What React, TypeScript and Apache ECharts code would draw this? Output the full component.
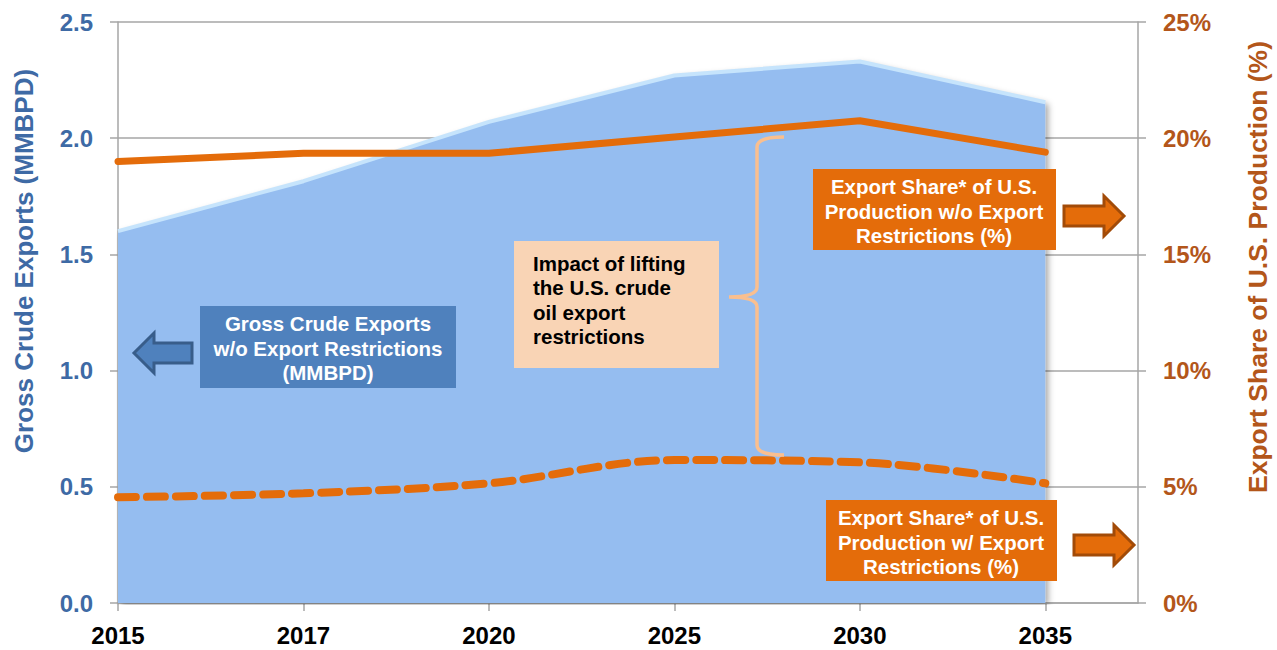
import React, { useEffect, useRef } from "react";
import * as echarts from "echarts";

const years = ["2015", "2017", "2020", "2025", "2030", "2035"];
const grossExports = [1.6, 1.815, 2.07, 2.27, 2.33, 2.155];
const shareNoRestrictions = [19.0, 19.35, 19.35, 20.05, 20.75, 19.4];
const shareWithRestrictions = [4.55, 4.72, 5.15, 6.15, 6.05, 5.15];
const leftTicks = { min: 0, max: 2.5, interval: 0.5 };
const rightTicks = { min: 0, max: 25, interval: 5 };

const FONT = "Liberation Sans, Arial, sans-serif";

const pair = (arr: number[]) => arr.map((v, i) => [i, v]);
const yearIdx = years.map((_, i) => i);

const bracePath =
  "M784,137 Q757,137 757,147 L757,287 Q757,297 729,297 Q757,297 757,307 L757,445 Q757,455 784,455";
echarts.graphic.registerShape("brace", echarts.graphic.extendPath(bracePath, {}) as any);

function rightArrow(x0: number, x1: number, cy: number, fill: string, stroke: string) {
  const headW = 20;
  return {
    type: "polygon",
    z: 100,
    shape: {
      points: [
        [x0, cy - 10],
        [x1 - headW, cy - 10],
        [x1 - headW, cy - 20],
        [x1, cy],
        [x1 - headW, cy + 20],
        [x1 - headW, cy + 10],
        [x0, cy + 10],
      ],
    },
    style: { fill, stroke, lineWidth: 3 },
  };
}

function leftArrow(x0: number, x1: number, cy: number, fill: string, stroke: string) {
  const headW = 20;
  return {
    type: "polygon",
    z: 100,
    shape: {
      points: [
        [x1, cy - 10],
        [x0 + headW, cy - 10],
        [x0 + headW, cy - 20],
        [x0, cy],
        [x0 + headW, cy + 20],
        [x0 + headW, cy + 10],
        [x1, cy + 10],
      ],
    },
    style: { fill, stroke, lineWidth: 3 },
  };
}

function box(x: number, y: number, w: number, h: number, fill: string) {
  return { type: "rect", z: 100, shape: { x, y, width: w, height: h }, style: { fill } };
}

function txt(text: string, x: number, y: number, fill: string, align = "center", size = 20.5) {
  return {
    type: "text",
    z: 101,
    style: {
      text,
      x,
      y,
      fill,
      align,
      verticalAlign: "middle",
      font: `bold ${size}px ${FONT}`,
      lineHeight: 24.5,
    },
  };
}

export default function App() {
  const ref = useRef<HTMLDivElement>(null);
  useEffect(() => {
    if (!ref.current) return;
    const chart = echarts.init(ref.current, null, { renderer: "svg" });
    const orange = "#e46c0a";
    const grid = "#a6a6a6";
    chart.setOption({
      animation: false,
      backgroundColor: "#ffffff",
      grid: { left: 118, right: 139, top: 22, bottom: 47, containLabel: false },
      xAxis: {
        type: "value",
        min: 0,
        max: 5.5,
        interval: 1,
        axisLine: { show: true, lineStyle: { color: grid, width: 1.5 } },
        axisTick: { show: true, length: 8, customValues: yearIdx, lineStyle: { color: grid, width: 1.5 } },
        splitLine: { show: false },
        axisLabel: {
          margin: 20,
          color: "#000000",
          fontFamily: FONT,
          fontWeight: "bold",
          fontSize: 24,
          customValues: yearIdx,
          formatter: (v: number) => (Number.isInteger(v) && years[v] ? years[v] : ""),
        },
      },
      yAxis: [
        {
          type: "value",
          ...leftTicks,
          axisLine: { show: true, lineStyle: { color: grid, width: 1.5 } },
          axisTick: { show: true, length: 8, lineStyle: { color: grid, width: 1.5 } },
          splitLine: { show: true, lineStyle: { color: grid, width: 1.5 } },
          axisLabel: {
            margin: 25,
            color: "#3e6aa5",
            fontFamily: FONT,
            fontWeight: "bold",
            fontSize: 24,
            formatter: (v: number) => v.toFixed(1),
          },
        },
        {
          type: "value",
          position: "right",
          ...rightTicks,
          axisLine: { show: true, lineStyle: { color: grid, width: 1.5 } },
          axisTick: { show: true, length: 8, lineStyle: { color: grid, width: 1.5 } },
          splitLine: { show: false },
          axisLabel: {
            margin: 25,
            color: "#b3561a",
            fontFamily: FONT,
            fontWeight: "bold",
            fontSize: 24,
            formatter: "{value}%",
          },
        },
      ],
      series: [
        {
          name: "Gross Crude Exports",
          type: "line",
          yAxisIndex: 0,
          data: pair(grossExports),
          symbol: "none",
          z: 1,
          lineStyle: { color: "#c6e4fc", width: 4 },
          areaStyle: {
            color: "#95bdf0",
            opacity: 1,
            shadowColor: "rgba(0,0,0,0.35)",
            shadowBlur: 6,
            shadowOffsetX: 3,
            shadowOffsetY: 2,
          },
        },
        {
          name: "Share w/o restrictions",
          type: "line",
          yAxisIndex: 1,
          data: pair(shareNoRestrictions),
          symbol: "none",
          z: 3,
          lineStyle: { color: orange, width: 7, cap: "round", join: "round" },
        },
        {
          name: "Share w/ restrictions",
          type: "line",
          yAxisIndex: 1,
          data: pair(shareWithRestrictions),
          symbol: "none",
          smooth: 0.35,
          z: 3,
          lineStyle: { color: orange, width: 8, type: [18, 11], cap: "round" },
        },
      ],
      graphic: [
        {
          type: "text",
          z: 101,
          x: 24,
          y: 261,
          rotation: Math.PI / 2,
          style: {
            text: "Gross Crude Exports (MMBPD)",
            fill: "#3e6aa5",
            font: `bold 26px ${FONT}`,
            align: "center",
            verticalAlign: "middle",
          },
        },
        {
          type: "text",
          z: 101,
          x: 1258,
          y: 267,
          rotation: Math.PI / 2,
          style: {
            text: "Export Share of U.S. Production (%)",
            fill: "#b3561a",
            font: `bold 26.5px ${FONT}`,
            align: "center",
            verticalAlign: "middle",
          },
        },
        box(200, 306, 256, 82, "#4f81bd"),
        txt("Gross Crude Exports\nw/o Export Restrictions\n(MMBPD)", 328, 348, "#ffffff"),
        leftArrow(134, 192, 353, "#4f81bd", "#385d8a"),
        box(813, 169, 243, 81, orange),
        txt("Export Share* of U.S.\nProduction w/o Export\nRestrictions (%)", 934, 211, "#ffffff"),
        rightArrow(1064, 1124, 216, orange, "#a24b08"),
        box(826, 500, 231, 81, orange),
        txt("Export Share* of U.S.\nProduction w/ Export\nRestrictions (%)", 941, 542, "#ffffff"),
        rightArrow(1074, 1134, 545, orange, "#a24b08"),
        box(514, 241, 205, 127, "#f9d4b5"),
        txt("Impact of lifting\nthe U.S. crude\noil export\nrestrictions", 533, 300, "#000000", "left"),
        {
          type: "brace",
          z: 100,
          x: 0,
          y: 0,
          style: { fill: "none", stroke: "#fabf8f", lineWidth: 3.5 },
        },
      ],
    });
    return () => chart.dispose();
  }, []);
  return <div ref={ref} style={{ width: 1277, height: 650, position: "absolute", left: 0, top: 0 }} />;
}
